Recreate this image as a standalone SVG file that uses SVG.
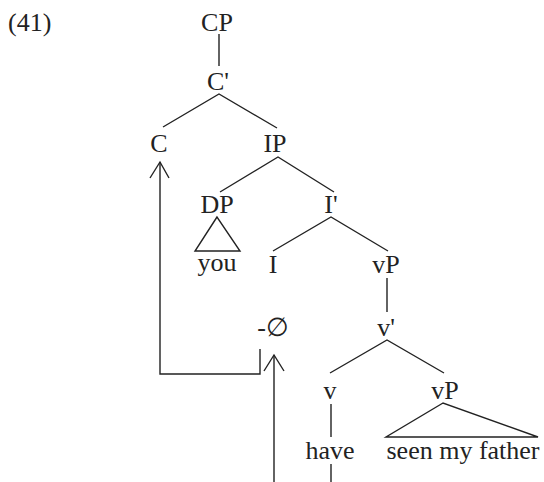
<svg xmlns="http://www.w3.org/2000/svg" width="544" height="482" viewBox="0 0 544 482">
<style>
text{font-family:"Liberation Serif","Times New Roman",serif;font-size:26px;fill:#222;text-anchor:middle}
.e{stroke:#222;stroke-width:1.4;fill:none}
</style>
<rect width="544" height="482" fill="#fff"/>
<text x="8" y="31" style="text-anchor:start">(41)</text>
<g id="CP"><text x="217" y="31">CP</text></g>
<g id="Cbar"><text x="218" y="90">C'</text></g>
<g id="C"><text x="159" y="152">C</text></g>
<g id="IP"><text x="275" y="152">IP</text></g>
<g id="DP"><text x="217" y="213">DP</text></g>
<g id="Ibar"><text x="331" y="213">I'</text></g>
<g id="you"><text x="217" y="271">you</text></g>
<g id="I"><text x="273" y="273">I</text></g>
<g id="vP1"><text x="386" y="273">vP</text></g>
<g id="vbar"><text x="386" y="336">v'</text></g>
<g id="null"><text x="273" y="336">-∅</text></g>
<g id="v"><text x="330" y="399">v</text></g>
<g id="vP2"><text x="445" y="399">vP</text></g>
<g id="have"><text x="330" y="459">have</text></g>
<g id="seen"><text x="463" y="459">seen my father</text></g>
<g id="connectors" class="e">
<path d="M219 34V66"/>
<path d="M163 127L219 94L277 128"/>
<path d="M220 192L278 157L334 192"/>
<path d="M217 217L195 251H240Z"/>
<path d="M273 251L331 217L388 251"/>
<path d="M387 278V312"/>
<path d="M330 373L387 340L444 373"/>
<path d="M331 404V437"/>
<path d="M331 464V482"/>
<path d="M443 403L386 437H538Z"/>
<path d="M260 349V374H160V162"/>
<path d="M150 178L160 162L169 178"/>
<path d="M274 482V355"/>
<path d="M264 371L274 355L284 371"/>
</g>
</svg>
